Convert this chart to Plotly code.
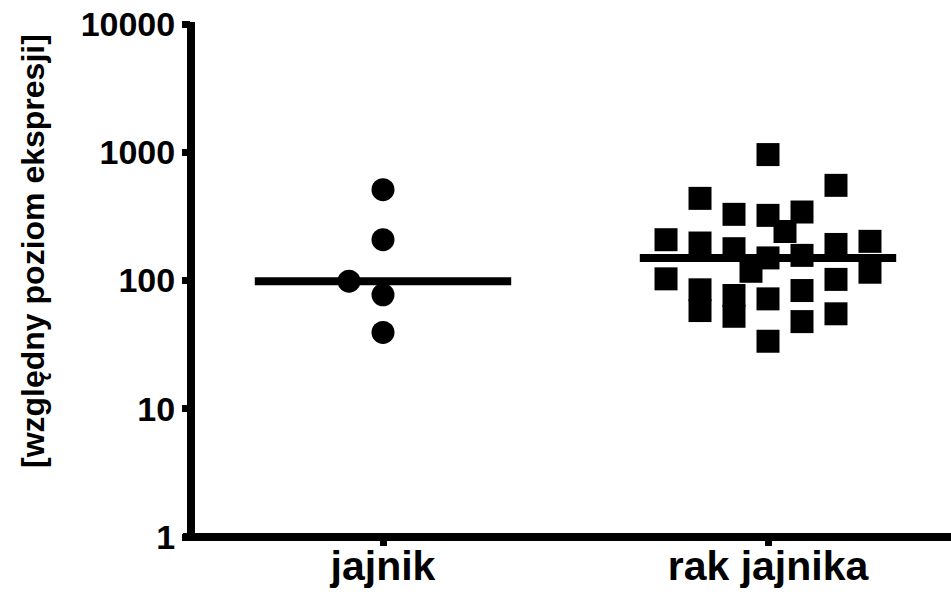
import numpy as np
import plotly.graph_objects as go

# Groups and measured relative expression levels
categories = ["jajnik", "rak jajnika"]

jajnik_values = [511, 208, 98.8, 77.3, 39.4]
rak_values = [959, 437, 552, 328, 322, 342, 241, 208, 196, 177, 191, 202, 150,
              157, 118, 103, 116, 102, 84.6, 58.3, 76.4, 52.6, 71.9, 83.5, 47.8,
              55.0, 33.6]

# Horizontal spread of the points, in slots around the group centre
jajnik_slots = [0, 0, -1, 0, 0]
rak_slots = [0, -2, 2, -1, 0, 1, 0.5, -3, -2, -1, 2, 3, 0, 1, -0.5, -3, 3, 2,
             -2, -2, -1, -1, 0, 1, 1, 2, 0]

y_tick_vals = [1, 10, 100, 1000, 10000]
y_tick_text = ["1", "10", "100", "1000", "10000"]
y_title = "[względny poziom ekspresji]"

SLOT = 0.0883
HALF_WIDTH = 0.333
FONT = "Liberation Sans, Arial, sans-serif"

fig = go.Figure()

groups = [
    (jajnik_values, jajnik_slots, "circle"),
    (rak_values, rak_slots, "square"),
]

for idx, (vals, slots, symbol) in enumerate(groups):
    xs = [idx + s * SLOT for s in slots]
    fig.add_trace(go.Scatter(
        x=xs, y=vals, mode="markers",
        marker=dict(symbol=symbol, size=23, color="black", line=dict(width=0)),
        showlegend=False, hoverinfo="y",
    ))

# Median line for each group
for idx, (vals, slots, symbol) in enumerate(groups):
    med = float(np.median(vals))
    fig.add_trace(go.Scatter(
        x=[idx - HALF_WIDTH, idx + HALF_WIDTH], y=[med, med], mode="lines",
        line=dict(color="black", width=8),
        showlegend=False, hoverinfo="skip",
    ))

L, T, B = 191, 24, 62
W, H = 951, 599
plot_w = W - L
plot_h = H - T - B
x_start = -0.4987
x_end = x_start + plot_w / 385.0

fig.update_layout(
    width=W, height=H,
    margin=dict(l=L, r=0, t=T, b=B, pad=0, autoexpand=False),
    paper_bgcolor="white", plot_bgcolor="white",
    font=dict(family=FONT, color="black"),
    xaxis=dict(
        range=[x_start, x_end], showgrid=False, zeroline=False, showline=False,
        automargin=False,
        tickmode="array", tickvals=list(range(len(categories))), ticktext=categories,
        ticks="outside", ticklen=8, tickwidth=7, tickcolor="black",
        ticklabelstandoff=-15,
        tickfont=dict(family=FONT, size=41, color="black", weight="bold"),
    ),
    yaxis=dict(
        type="log", range=[0, 4], showgrid=False, zeroline=False, showline=False,
        automargin=False,
        tickmode="array", tickvals=y_tick_vals, ticktext=y_tick_text,
        ticks="outside", ticklen=8, tickwidth=7, tickcolor="black",
        tickfont=dict(family=FONT, size=34, color="black", weight="bold"),
    ),
    shapes=[
        # y axis line
        dict(type="line", xref="paper", yref="paper",
             x0=0, x1=0, y0=-4 / plot_h, y1=1 + 2 / plot_h,
             line=dict(color="black", width=8)),
        # x axis line
        dict(type="line", xref="paper", yref="paper",
             x0=-8 / plot_w, x1=1.0, y0=0, y1=0,
             line=dict(color="black", width=8)),
    ],
    annotations=[
        dict(text=y_title, xref="paper", yref="paper",
             x=(33 - L) / plot_w, y=(537 - 251) / plot_h,
             xanchor="center", yanchor="middle", textangle=-90, showarrow=False,
             font=dict(family=FONT, size=32, color="black", weight="bold")),
    ],
)

fig.write_html("out.html")
